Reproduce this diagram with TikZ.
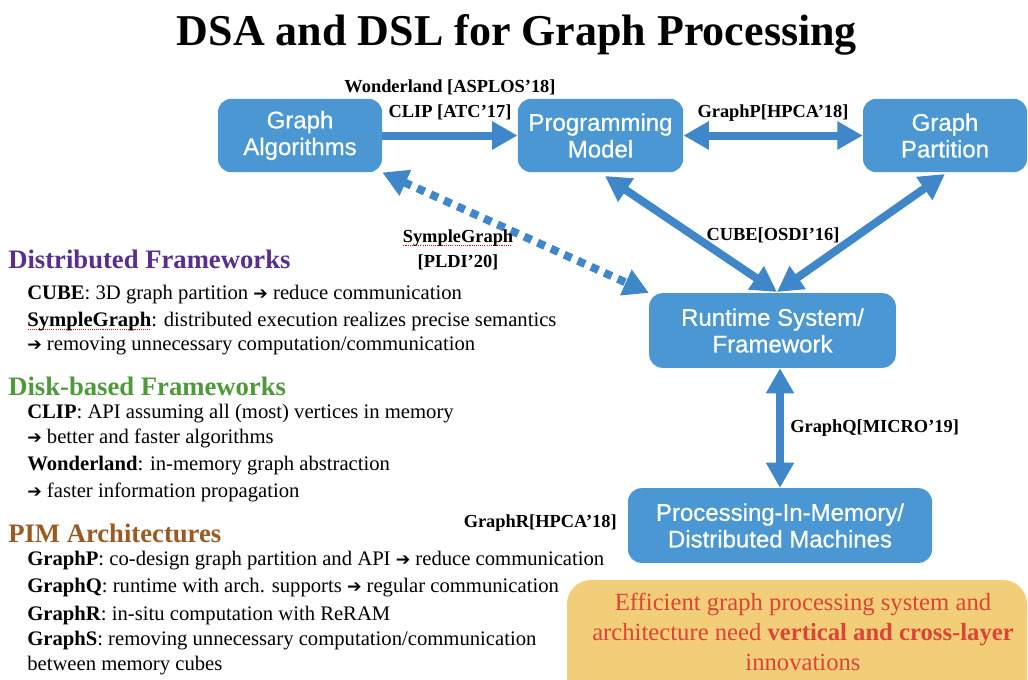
\documentclass[tikz,border=0pt]{standalone}
\usepackage{fontspec}
\setmainfont{Liberation Serif}
\setsansfont{Liberation Sans}
\newfontfamily\symfont{DejaVu Sans}
\newfontfamily\boxfont{Liberation Sans}[FakeBold=0.7]
\usetikzlibrary{arrows.meta}

\definecolor{boxblue}{HTML}{4A97D3}
\definecolor{arrowblue}{HTML}{3F87C8}
\definecolor{dfpurple}{HTML}{5A2D91}
\definecolor{dkgreen}{HTML}{4E9A3A}
\definecolor{pimbrown}{HTML}{9B5A22}
\definecolor{notefill}{HTML}{F3CE78}
\definecolor{notered}{HTML}{DC4437}

% arrow symbol used inside the text lines
\newcommand{\ra}{{\symfont\fontsize{13}{13}\selectfont\char"2794}}
% word with a red dotted underline
\newcommand{\squig}[1]{\setbox0\hbox{#1}\rlap{\color{red}\raisebox{-2.6pt}{\leaders\hbox to 1.6pt{\hss\rule{0.8pt}{0.7pt}\hss}\hskip\wd0}}\box0}

\tikzset{
  layer/.style={fill=boxblue, rounded corners=10pt, text=white, align=center,
    inner sep=0pt, font=\boxfont\fontsize{18}{20}\selectfont},
  fatarrow/.style={draw=arrowblue, line width=6pt,
    -{Triangle[width=20pt,length=19pt]}},
  fatboth/.style={draw=arrowblue, line width=6pt,
    {Triangle[width=20pt,length=19pt]}-{Triangle[width=20pt,length=19pt]}},
  dotboth/.style={draw=arrowblue, line width=6pt, dash pattern=on 6pt off 5pt,
    {Triangle[width=20pt,length=19pt]}-{Triangle[width=20pt,length=19pt]}},
  cite/.style={font=\bfseries\fontsize{13.8}{15}\selectfont, inner sep=0pt},
  head/.style={font=\bfseries\fontsize{20}{22}\selectfont, anchor=base west, inner sep=0pt},
  item/.style={font=\fontsize{15.5}{17}\selectfont, anchor=base west, inner sep=0pt},
}

\begin{document}
\begin{tikzpicture}[x=0.75pt, y=-0.75pt]
\useasboundingbox (0,0) rectangle (1028,679);

% title
\node[font=\bfseries\fontsize{33}{38}\selectfont, inner sep=0pt] (title) at (517,35) {DSA and DSL for Graph Processing};

% layer boxes
\node[layer, minimum width=123pt, minimum height=55pt] (alg) at (300,135.5) {Graph\\Algorithms};
\node[layer, minimum width=124pt, minimum height=55pt] (pm) at (600.5,135.5) {Programming\\Model};
\node[layer, minimum width=123pt, minimum height=55pt] (gp) at (945,135.5) {Graph\\Partition};
\node[layer, minimum width=185pt, minimum height=56pt] (rt) at (772.5,330.5) {Runtime System/\\Framework};
\node[layer, minimum width=228pt, minimum height=56pt] (pim) at (780,525.5) {Processing-In-Memory/\\Distributed Machines};

% anchor points of the connectors
\coordinate (pmlow) at (605,176);
\coordinate (gplow) at (945,174);
\coordinate (rttop) at (777,292);

% connectors
\draw[fatarrow] (alg.east) -- (pm.west);
\draw[fatboth] (pm.east) -- (gp.west);
\draw[fatboth] (pmlow) -- (rttop);
\draw[fatboth] (gplow) -- (rttop);
\draw[dotboth] (alg.south east) -- (rt.north west);
\draw[fatboth] (rt.south -| pim.north) -- (pim.north);

% connector labels
\node[cite, anchor=base] (wl) at (450,92) {Wonderland [ASPLOS’18]};
\node[cite, anchor=base] (clip) at (450,117) {CLIP [ATC’17]};
\node[cite, anchor=base] (gpl) at (773,117) {GraphP[HPCA’18]};
\node[cite, anchor=base] (cube) at (773,240) {CUBE[OSDI’16]};
\node[cite, anchor=base] (sg) at (458,242) {\squig{SympleGraph}};
\node[cite, anchor=base] (pldi) at (458,267) {[PLDI’20]};
\node[cite, anchor=base west] (gq) at (790,432) {GraphQ[MICRO’19]};
\node[cite, anchor=base east] (gr) at (617,527) {GraphR[HPCA’18]};

% distributed frameworks
\node[head, text=dfpurple] (h1) at (8,268) {Distributed Frameworks};
\node[item] (t1) at (27,299) {\textbf{CUBE}: 3D graph partition \ra\ reduce communication};
\node[item] (t2) at (27,326) {\textbf{\squig{SympleGraph}}: distributed execution realizes precise semantics};
\node[item] (t3) at (27,350) {\ra\ removing unnecessary computation/communication};

% disk-based frameworks
\node[head, text=dkgreen] (h2) at (8,395) {Disk-based Frameworks};
\node[item] (t4) at (27,418) {\textbf{CLIP}: API assuming all (most) vertices in memory};
\node[item] (t5) at (27,443) {\ra\ better and faster algorithms};
\node[item] (t6) at (27,470) {\textbf{Wonderland}: in-memory graph abstraction};
\node[item] (t7) at (27,497) {\ra\ faster information propagation};

% PIM architectures
\node[head, text=pimbrown] (h3) at (8,542) {PIM Architectures};
\node[item] (t8) at (27,565) {\textbf{GraphP}: co-design graph partition and API \ra\ reduce communication};
\node[item] (t9) at (27,592) {\textbf{GraphQ}: runtime with arch. supports \ra\ regular communication};
\node[item] (t10) at (27,620) {\textbf{GraphR}: in-situ computation with ReRAM};
\node[item] (t11) at (27,645) {\textbf{GraphS}: removing unnecessary computation/communication};
\node[item] (t12) at (27,670) {between memory cubes};

% conclusion note
\fill[notefill, rounded corners=18pt] (567,580) rectangle (1027,720);
\node[text=notered, align=center, inner sep=0pt, font=\fontsize{18.5}{22.5}\selectfont] (note) at (803,632)
  {Efficient graph processing system and\\architecture need \textbf{vertical and cross-layer}\\innovations};
\end{tikzpicture}
\end{document}
